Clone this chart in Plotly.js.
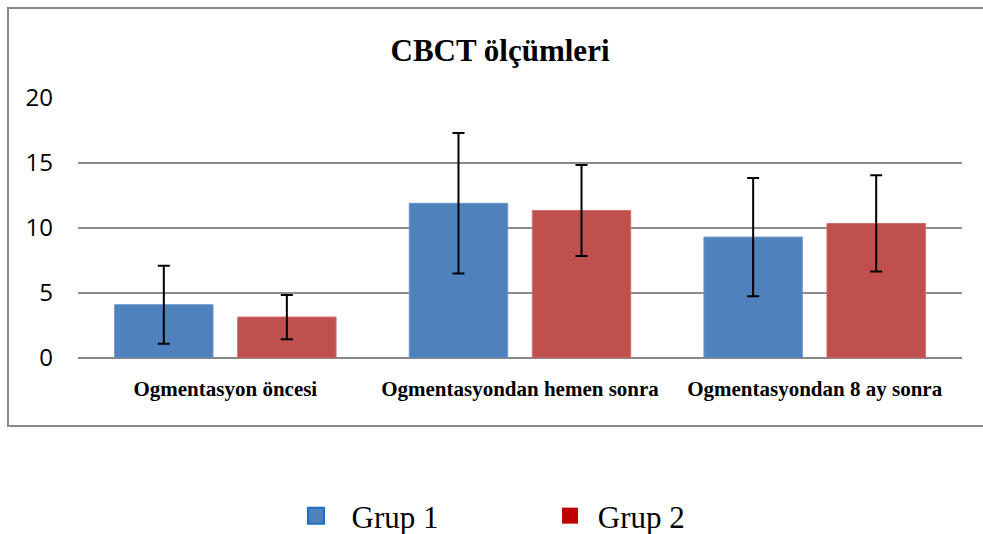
<!DOCTYPE html>
<html>
<head>
<meta charset="utf-8">
<script src="https://cdn.plot.ly/plotly-3.0.1.min.js"></script>
<style>
  html, body { margin: 0; padding: 0; background: #ffffff; }
  #chart { width: 983px; height: 534px; }
</style>
</head>
<body>
<div id="chart"></div>
<script>
// ---- Data ----
const categories = ['Ogmentasyon öncesi', 'Ogmentasyondan hemen sonra', 'Ogmentasyondan 8 ay sonra'];
const seriesNames = ['Grup 1', 'Grup 2'];
const grup1Values = [4.1, 11.9, 9.3];
const grup1Errors = [3.0, 5.4, 4.55];
const grup2Values = [3.15, 11.35, 10.35];
const grup2Errors = [1.7, 3.5, 3.7];
const yTickValues = [0, 5, 10, 15, 20];
const chartTitle = 'CBCT ölçümleri';

const blue = '#4f81bd';
const red = '#c0504d';
const legendBlue = '#4f81bd';
const legendRed = '#c00000';

const errStyle = (arr) => ({
  type: 'data', array: arr, visible: true,
  color: '#000000', thickness: 2, width: 6
});

const data = [
  {
    type: 'bar', x: categories, y: grup1Values, name: seriesNames[0],
    marker: { color: blue, line: { color: '#6d97cc', width: 1 } },
    error_y: errStyle(grup1Errors), showlegend: false, hoverinfo: 'x+y'
  },
  {
    type: 'bar', x: categories, y: grup2Values, name: seriesNames[1],
    marker: { color: red, line: { color: '#d0706d', width: 1 } },
    error_y: errStyle(grup2Errors), showlegend: false, hoverinfo: 'x+y'
  },
  // legend-only entries (bigger square swatches)
  {
    type: 'scatter', mode: 'markers', x: [null], y: [null],
    name: '\u00a0\u00a0' + seriesNames[0],
    marker: { symbol: 'square', size: 16, color: legendBlue, line: { color: '#1f6fc5', width: 2 } },
    hoverinfo: 'skip'
  },
  {
    type: 'scatter', mode: 'markers', x: [null], y: [null],
    name: '\u00a0' + seriesNames[1],
    marker: { symbol: 'square', size: 16, color: legendRed, line: { width: 0 } },
    hoverinfo: 'skip'
  }
];

const layout = {
  width: 983, height: 534,
  paper_bgcolor: '#ffffff', plot_bgcolor: '#ffffff',
  margin: { l: 78, r: 21, t: 98, b: 176, pad: 0 },
  title: {
    text: '<b>' + chartTitle + '</b>',
    font: { family: 'Liberation Serif, Times New Roman, serif', size: 31, color: '#000000' },
    x: 500 / 983, xref: 'container', xanchor: 'center',
    y: 1 - 50 / 534, yref: 'container', yanchor: 'middle'
  },
  barmode: 'group',
  bargap: 0.165,
  bargroupgap: 0.2,
  xaxis: {
    type: 'category',
    categoryorder: 'array', categoryarray: categories,
    tickvals: categories,
    ticktext: categories.map(c => '<b>' + c + '</b>'),
    tickfont: { family: 'Liberation Serif, Times New Roman, serif', size: 21, color: '#000000' },
    showgrid: false, zeroline: false, showline: false,
    ticks: '', ticklabelstandoff: 16,
    fixedrange: true
  },
  yaxis: {
    range: [0, 20],
    tickvals: yTickValues,
    ticktext: yTickValues.map(String),
    tickfont: { family: 'Open Sans, Liberation Sans, sans-serif', size: 24, color: '#000000' },
    showgrid: true, gridcolor: '#8c8c8c', gridwidth: 2,
    zeroline: true, zerolinecolor: '#868686', zerolinewidth: 2,
    showline: false, ticks: '', ticklabelstandoff: 24,
    fixedrange: true
  },
  legend: {
    orientation: 'h',
    x: 296 / 983, xref: 'container', xanchor: 'left',
    y: 1 - 516 / 534, yref: 'container', yanchor: 'middle',
    font: { family: 'Liberation Serif, Times New Roman, serif', size: 31, color: '#000000' },
    entrywidth: 209, entrywidthmode: 'pixels',
    bgcolor: 'rgba(0,0,0,0)', borderwidth: 0,
    itemclick: false, itemdoubleclick: false
  },
  shapes: [
    {
      type: 'rect', xref: 'paper', yref: 'paper', layer: 'below',
      x0: (8 - 78) / 884, x1: (995 - 78) / 884,
      y0: (358 - 426) / 260, y1: (358 - 8) / 260,
      line: { color: '#8a8a8a', width: 2 }, fillcolor: 'rgba(0,0,0,0)'
    }
  ],
  showlegend: true
};

Plotly.newPlot('chart', data, layout, { displayModeBar: false, staticPlot: true });
</script>
</body>
</html>
